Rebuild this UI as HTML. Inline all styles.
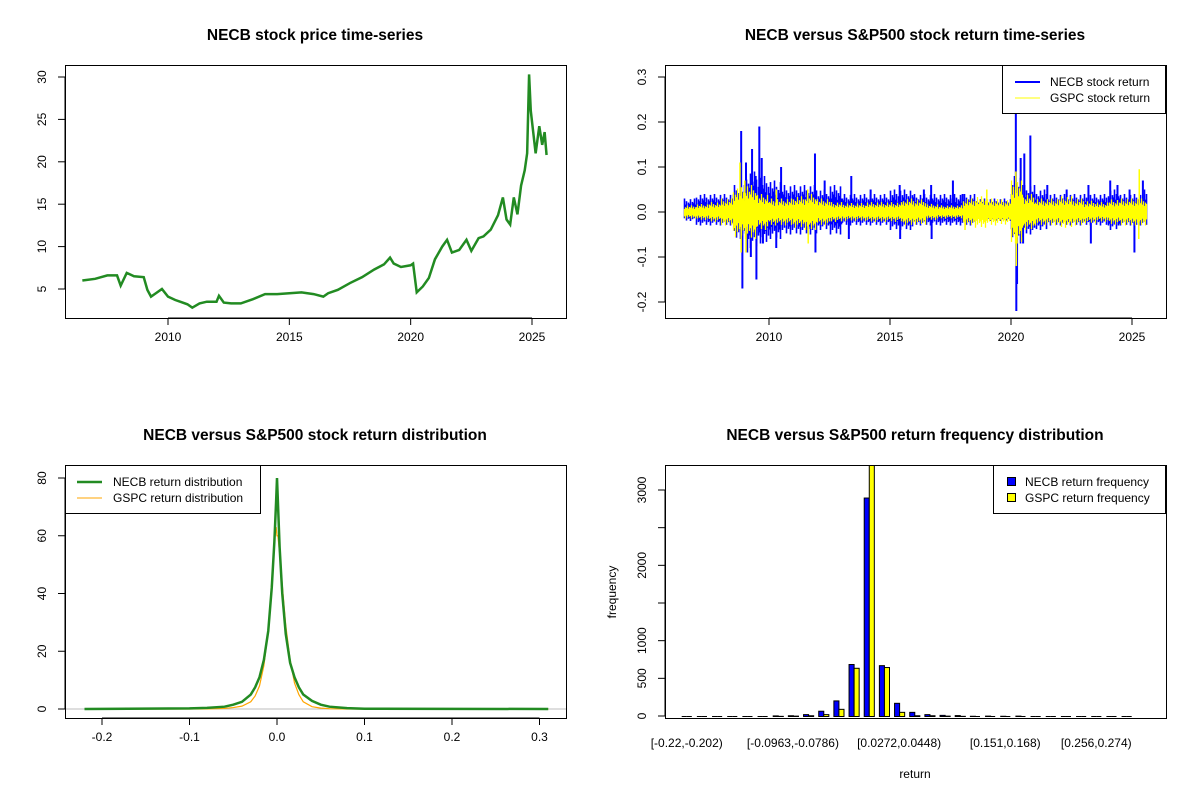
<!DOCTYPE html>
<html><head><meta charset="utf-8"><style>
body{margin:0;background:#fff}
svg{display:block;font-family:"Liberation Sans",Arial,sans-serif}
.t{font-size:15.5px;font-weight:bold;text-anchor:middle}
.k{font-size:12px}
</style></head><body>
<svg id="s" width="1200" height="800" viewBox="0 0 1200 800"></svg>
<script>
// ---- price data (NECB) ----
const priceYears=[2006.47,2007.0,2007.5,2007.9,2008.05,2008.3,2008.6,2009.0,2009.15,2009.3,2009.5,2009.75,2010.0,2010.3,2010.5,2010.8,2011.0,2011.3,2011.6,2012.0,2012.1,2012.3,2012.6,2013.0,2013.5,2014.0,2014.5,2015.0,2015.5,2016.0,2016.4,2016.6,2017.0,2017.5,2018.0,2018.5,2018.9,2019.15,2019.3,2019.6,2020.0,2020.1,2020.25,2020.5,2020.75,2021.0,2021.3,2021.5,2021.7,2022.0,2022.3,2022.5,2022.8,2023.0,2023.3,2023.6,2023.8,2023.95,2024.1,2024.25,2024.4,2024.55,2024.7,2024.8,2024.88,2024.95,2025.05,2025.15,2025.3,2025.42,2025.52,2025.6];
const priceVals=[6.0,6.2,6.6,6.6,5.4,6.9,6.5,6.4,4.9,4.1,4.5,5.0,4.1,3.7,3.5,3.2,2.8,3.3,3.5,3.5,4.2,3.4,3.3,3.3,3.8,4.4,4.4,4.5,4.6,4.4,4.1,4.5,4.9,5.7,6.4,7.3,7.9,8.7,8.0,7.6,7.8,8.0,4.6,5.3,6.3,8.5,10.0,10.8,9.3,9.6,10.8,9.5,11.0,11.2,12.0,13.7,15.8,13.2,12.6,15.8,13.8,17.2,19.0,21.0,30.3,26.0,23.5,21.0,24.2,22.0,23.5,20.8];
// ---- return series: half-year typical ranges ----
const retYears=[2006.5,2007,2007.5,2008,2008.5,2009,2009.5,2010,2010.5,2011,2011.5,2012,2012.5,2013,2013.5,2014,2014.5,2015,2015.5,2016,2016.5,2017,2017.5,2018,2018.5,2019,2019.5,2020,2020.5,2021,2021.5,2022,2022.5,2023,2023.5,2024,2024.5,2025,2025.5];
const necbHi=[0.03,0.04,0.04,0.04,0.06,0.09,0.08,0.07,0.06,0.06,0.06,0.05,0.06,0.04,0.04,0.04,0.04,0.05,0.05,0.04,0.04,0.04,0.04,0.04,0.03,0.03,0.03,0.08,0.06,0.05,0.04,0.04,0.04,0.04,0.04,0.05,0.04,0.04,0.05];
const necbLo=[-0.02,-0.03,-0.03,-0.03,-0.06,-0.08,-0.07,-0.06,-0.05,-0.05,-0.05,-0.04,-0.05,-0.03,-0.03,-0.03,-0.03,-0.04,-0.04,-0.03,-0.03,-0.03,-0.03,-0.03,-0.02,-0.02,-0.02,-0.07,-0.05,-0.04,-0.03,-0.03,-0.03,-0.03,-0.03,-0.04,-0.03,-0.03,-0.03];
const gspcHi=[0.015,0.018,0.022,0.03,0.055,0.06,0.04,0.03,0.03,0.035,0.04,0.03,0.022,0.02,0.02,0.022,0.022,0.022,0.03,0.028,0.018,0.015,0.015,0.03,0.035,0.03,0.028,0.07,0.04,0.03,0.03,0.035,0.03,0.025,0.022,0.028,0.03,0.03,0.03];
const necbSpikeX=[2008.85,2008.9,2009.05,2009.1,2009.3,2009.25,2009.45,2009.48,2009.6,2009.7,2009.75,2010.5,2010.3,2011.9,2011.92,2012.3,2013.4,2013.3,2014.2,2015.4,2015.42,2016.4,2016.7,2016.72,2017.6,2018.0,2020.2,2020.22,2020.25,2020.4,2020.55,2020.8,2020.5,2021.5,2022.3,2023.2,2023.3,2024.1,2024.4,2024.9,2025.1,2025.45];
const necbSpikeY=[0.18,-0.17,0.11,-0.09,0.14,-0.10,0.08,-0.15,0.19,0.12,-0.07,0.10,-0.08,0.13,-0.09,0.07,0.08,-0.06,0.05,0.06,-0.06,0.05,0.06,-0.06,0.07,0.04,0.23,-0.22,-0.16,0.12,0.13,0.17,-0.07,0.06,0.05,0.06,-0.07,0.07,0.06,0.05,-0.09,0.07];
const gspcSpikeX=[2008.8,2008.85,2009.0,2009.05,2010.3,2011.6,2011.62,2018.1,2019.0,2020.2,2020.22,2020.25,2025.3,2025.28];
const gspcSpikeY=[0.11,-0.09,0.07,-0.09,0.05,0.05,-0.07,-0.04,0.05,0.09,-0.12,-0.07,0.095,-0.06];
// ---- densities ----
const densX=[-0.22,-0.1,-0.08,-0.06,-0.05,-0.04,-0.03,-0.025,-0.02,-0.015,-0.01,-0.006,-0.003,-0.001,0,0.001,0.003,0.006,0.01,0.015,0.02,0.025,0.03,0.04,0.05,0.06,0.08,0.1,0.31];
const necbDens=[0,0.2,0.4,0.8,1.5,2.5,5,7.5,11,17,27,42,58,72,80,72,56,40,26,16,11,7.5,5,2.8,1.5,0.8,0.3,0.1,0];
const gspcDens=[0,0,0.05,0.2,0.5,1,2.5,4.5,8,15,27,44,58,63,60,60,54,43,29,17,9,5,2.5,0.8,0.3,0.1,0,0,0];
// ---- histogram ----
const binLabels=["[-0.22,-0.202)","[-0.0963,-0.0786)","[0.0272,0.0448)","[0.151,0.168)","[0.256,0.274)"];
const binLabelIdx=[0,7,14,21,27];
const necbFreq=[0,0,0,0,0,0,8,10,25,70,207,690,2900,675,175,55,25,15,12,3,5,3,5,0,0,0,0,0,0,0];
const gspcFreq=[0,0,0,0,0,0,2,5,10,25,95,640,3600,650,55,10,10,5,2,0,0,0,0,0,0,0,0,0,0,0];

const S=document.getElementById('s');const NS='http://www.w3.org/2000/svg';
function el(tag,a,txt,parent){const e=document.createElementNS(NS,tag);for(const k in a)e.setAttribute(k,a[k]);if(txt!=null)e.textContent=txt;(parent||S).appendChild(e);return e;}
function lin(d0,d1,r0,r1){return v=>r0+(v-d0)*(r1-r0)/(d1-d0);}
function box(x0,y0,x1,y1,name){const e=el('rect',{x:x0+.5,y:y0+.5,width:x1-x0,height:y1-y0,fill:'none',stroke:'#000'});}
function title(x,y,s,name){const e=el('text',{x:x,y:y,class:'t'},s);}
function xticks(vals,labs,sx,y,name){vals.forEach((v,i)=>{const x=sx(v);el('line',{x1:x,y1:y,x2:x,y2:y+7,stroke:'#000'});const t=el('text',{x:x,y:y+23,class:'k','text-anchor':'middle'},labs[i]);});}
function yticks(vals,labs,sy,x,name){vals.forEach((v,i)=>{const y=sy(v);el('line',{x1:x,y1:y,x2:x-7,y2:y,stroke:'#000'});if(labs[i]!==''){const t=el('text',{x:x-19,y:y,class:'k','text-anchor':'middle',transform:`rotate(-90 ${x-19} ${y})`},labs[i]);}});}
const tex=[1,0.55,0.8,0.45,0.7,0.6,0.95,0.5,0.75,0.65];

// Panel 1
{const sx=lin(2010,2025,168,532),sy=lin(5,30,289,77);
box(65,65,566,318,'price-plot-frame');title(315,40,'NECB stock price time-series','price-chart-title');
const p=el('polyline',{points:priceYears.map((t,i)=>sx(t)+','+sy(priceVals[i])).join(' '),fill:'none',stroke:'#228b22','stroke-width':2.5});

el('line',{x1:sx(2010),y1:318,x2:sx(2025),y2:318,stroke:'#000'});
xticks([2010,2015,2020,2025],['2010','2015','2020','2025'],sx,318,'price-x-tick');
el('line',{x1:65,y1:sy(5),x2:65,y2:sy(30),stroke:'#000'});
yticks([5,10,15,20,25,30],['5','10','15','20','25','30'],sy,65,'price-y-tick');}

// Panel 2
{const sx=lin(2010,2025,769,1132),sy=lin(0,0.3,212,77);
box(665,65,1166,318,'return-plot-frame');title(915,40,'NECB versus S&P500 stock return time-series','return-chart-title');
let c=0;
retYears.forEach((t,i)=>{const x0=Math.round(sx(t)),x1=Math.round(sx(Math.min(t+0.5,2025.6)));
for(let x=x0;x<x1;x++){const f=tex[c++%tex.length],g=tex[(c+3)%tex.length];
const l=el('line',{x1:x+.5,y1:sy(necbHi[i]*f),x2:x+.5,y2:sy(necbLo[i]*g),stroke:'#0000ff','stroke-width':1.6});}});
necbSpikeX.forEach((t,i)=>{const l=el('line',{x1:sx(t),y1:sy(0),x2:sx(t),y2:sy(necbSpikeY[i]),stroke:'#0000ff','stroke-width':2});});
retYears.forEach((t,i)=>{const x0=Math.round(sx(t)),x1=Math.round(sx(Math.min(t+0.5,2025.6)));
for(let x=x0;x<x1;x++){const f=tex[c++%tex.length],g=tex[(c+5)%tex.length];
const l=el('line',{x1:x+.5,y1:sy(gspcHi[i]*f),x2:x+.5,y2:sy(-gspcHi[i]*g),stroke:'#ffff00','stroke-width':1.3});}});
gspcSpikeX.forEach((t,i)=>{const l=el('line',{x1:sx(t),y1:sy(0),x2:sx(t),y2:sy(gspcSpikeY[i]),stroke:'#ffff00','stroke-width':1.5});});
xticks([2010,2015,2020,2025],['2010','2015','2020','2025'],sx,318,'return-x-tick');
el('line',{x1:sx(2010),y1:318,x2:sx(2025),y2:318,stroke:'#000'});
el('line',{x1:665,y1:sy(-0.2),x2:665,y2:sy(0.3),stroke:'#000'});
yticks([-0.2,-0.1,0,0.1,0.2,0.3],['-0.2','-0.1','0.0','0.1','0.2','0.3'],sy,665,'return-y-tick');
const lg=el('rect',{x:1002.5,y:65.5,width:163,height:48,fill:'#fff',stroke:'#000'});
el('line',{x1:1015,y1:82,x2:1040,y2:82,stroke:'#0000ff','stroke-width':2});
el('line',{x1:1015,y1:98,x2:1040,y2:98,stroke:'#ffff00','stroke-width':1});
const a=el('text',{x:1050,y:86,class:'k'},'NECB stock return');
const b=el('text',{x:1050,y:102,class:'k'},'GSPC stock return');}

// Panel 3
{const sx=lin(0,0.1,277,364.5),sy=lin(0,80,709,478);
box(65,465,566,718,'density-plot-frame');title(315,440,'NECB versus S&P500 stock return distribution','density-chart-title');
el('line',{x1:66,y1:sy(0),x2:566,y2:sy(0),stroke:'#bebebe'});
const g=el('polyline',{points:densX.map((v,i)=>sx(v)+','+sy(gspcDens[i])).join(' '),fill:'none',stroke:'#ffa500','stroke-width':1.2});
const n=el('polyline',{points:densX.map((v,i)=>sx(v)+','+sy(necbDens[i])).join(' '),fill:'none',stroke:'#228b22','stroke-width':2.5});
el('line',{x1:sx(-0.2),y1:718,x2:sx(0.3),y2:718,stroke:'#000'});
xticks([-0.2,-0.1,0,0.1,0.2,0.3],['-0.2','-0.1','0.0','0.1','0.2','0.3'],sx,718,'density-x-tick');
el('line',{x1:65,y1:sy(0),x2:65,y2:sy(80),stroke:'#000'});
yticks([0,20,40,60,80],['0','20','40','60','80'],sy,65,'density-y-tick');
const lg=el('rect',{x:65.5,y:465.5,width:195,height:48,fill:'#fff',stroke:'#000'});
el('line',{x1:77,y1:482,x2:102,y2:482,stroke:'#228b22','stroke-width':2.5});
el('line',{x1:77,y1:498,x2:102,y2:498,stroke:'#ffa500','stroke-width':1});
const a=el('text',{x:113,y:486,class:'k'},'NECB return distribution');
const b=el('text',{x:113,y:502,class:'k'},'GSPC return distribution');}

// Panel 4
{const sy=lin(0,3000,716,490),unit=5.056,x0=681.7;
title(915,440,'NECB versus S&P500 return frequency distribution','histogram-chart-title');
const cp=el('clipPath',{id:'hc'});el('rect',{x:665,y:466,width:501,height:252},null,cp);
function bar(x,v,fill,name){if(v<=0){const l=el('line',{x1:x,y1:sy(0)+.5,x2:x+unit,y2:sy(0)+.5,stroke:'#000'});return;}
const r=el('rect',{x:x+.5,y:sy(v)+.5,width:unit,height:sy(0)-sy(v),fill:fill,stroke:'#000','clip-path':'url(#hc)'});}
necbFreq.forEach((v,i)=>{const x=x0+3*i*unit;bar(x,v,'#0000ff','bar-necb-frequency');bar(x+unit,gspcFreq[i],'#ffff00','bar-gspc-frequency');});
box(665,465,1166,718,'histogram-plot-frame');
binLabelIdx.forEach((b,k)=>{const t=el('text',{x:x0+(3*b+1)*unit,y:747,class:'k','text-anchor':'middle'},binLabels[k]);});
el('line',{x1:665,y1:sy(0),x2:665,y2:sy(3000),stroke:'#000'});
yticks([0,500,1000,1500,2000,2500,3000],['0','500','1000','','2000','','3000'],sy,665,'histogram-y-tick');
const xl=el('text',{x:915,y:778,class:'k','text-anchor':'middle'},'return');
const yl=el('text',{x:616,y:592,class:'k','text-anchor':'middle',transform:'rotate(-90 616 592)'},'frequency');
const lg=el('rect',{x:993.5,y:465.5,width:172,height:48,fill:'#fff',stroke:'#000'});
el('rect',{x:1007.5,y:477.5,width:8,height:8,fill:'#0000ff',stroke:'#000'});
el('rect',{x:1007.5,y:493.5,width:8,height:8,fill:'#ffff00',stroke:'#000'});
const a=el('text',{x:1025,y:486,class:'k'},'NECB return frequency');
const b=el('text',{x:1025,y:502,class:'k'},'GSPC return frequency');}
</script>
</body></html>
